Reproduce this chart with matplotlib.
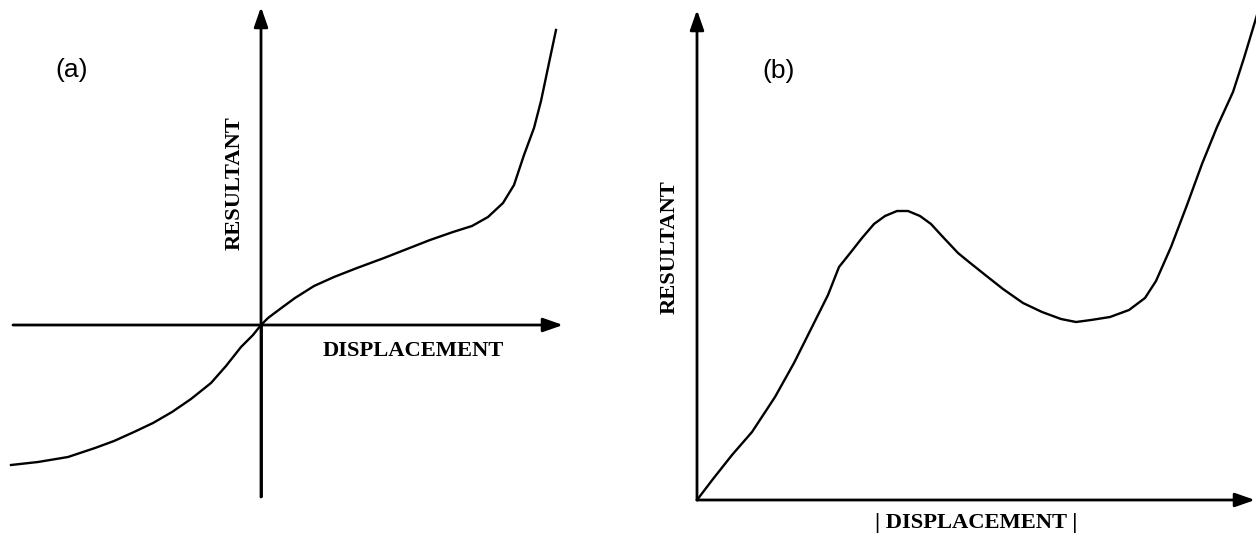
import numpy as np
import matplotlib.pyplot as plt

# (a) resultant vs signed displacement, S-shaped stiffening curve
disp_a = [-2.50, -2.23, -1.93, -1.66, -1.47, -1.27, -1.08, -0.89, -0.70,
          -0.50, -0.35, -0.20, -0.08, 0.00, 0.07, 0.19, 0.34, 0.53, 0.73,
          0.96, 1.23, 1.46, 1.69, 1.92, 2.11, 2.27, 2.42, 2.53, 2.63, 2.73,
          2.80, 2.88, 2.95]
res_a = [-1.40, -1.37, -1.32, -1.23, -1.16, -1.07, -0.98, -0.87, -0.74,
         -0.58, -0.41, -0.22, -0.10, 0.00, 0.07, 0.16, 0.27, 0.39, 0.48,
         0.57, 0.67, 0.76, 0.85, 0.93, 0.99, 1.08, 1.22, 1.40, 1.70, 1.97,
         2.24, 2.62, 2.95]

# (b) resultant vs |displacement|, hump then stiffening
disp_b = [0.00, 0.16, 0.35, 0.55, 0.78, 0.97, 1.16, 1.31, 1.42, 1.54, 1.65,
          1.77, 1.88, 2.00, 2.11, 2.23, 2.34, 2.45, 2.61, 2.72, 2.87, 3.06,
          3.26, 3.45, 3.64, 3.79, 3.94, 4.13, 4.32, 4.48, 4.59, 4.74, 4.90,
          5.05, 5.20, 5.36, 5.47, 5.60]
res_b = [0.00, 0.21, 0.45, 0.68, 1.03, 1.37, 1.75, 2.05, 2.33, 2.48, 2.62,
         2.76, 2.84, 2.89, 2.89, 2.84, 2.76, 2.64, 2.47, 2.38, 2.26, 2.11,
         1.97, 1.88, 1.81, 1.78, 1.80, 1.83, 1.90, 2.02, 2.19, 2.53, 2.95,
         3.36, 3.73, 4.08, 4.42, 4.85]

AXIS_LW = 2.0
CURVE_LW = 1.7
serif = dict(family='Liberation Serif', fontweight='bold', fontsize=16.2)


def arrow(ax, start, tip):
    ax.annotate('', xy=tip, xytext=start,
                arrowprops=dict(arrowstyle='-|>,head_length=1.0,head_width=0.35',
                                mutation_scale=12, lw=AXIS_LW, color='black',
                                shrinkA=0, shrinkB=0),
                annotation_clip=False)


fig = plt.figure(figsize=(12.56, 5.4), dpi=100)

ax_a = fig.add_axes([0, 0, 628 / 1256, 1])
ax_a.set_xlim(-2.61, 3.67)
ax_a.set_ylim(-2.15, 3.25)
ax_a.axis('off')
arrow(ax_a, (-2.48, 0), (3.02, 0))
ax_a.plot([0, 0], [-1.72, 0], color='black', lw=AXIS_LW, solid_capstyle='butt')
arrow(ax_a, (0, -1.72), (0, 3.18))
ax_a.plot(disp_a, res_a, color='black', lw=CURVE_LW, clip_on=False,
          solid_joinstyle='round')
ax_a.text(-1.89, 2.55, '(a)', family='Liberation Sans', fontsize=19,
          ha='center', va='center')
ax_a.text(-0.26, 1.42, 'RESULTANT', rotation=90, ha='center', va='center', **serif)
ax_a.text(1.52, -0.26, 'DISPLACEMENT', ha='center', va='center', **serif)

ax_b = fig.add_axes([628 / 1256, 0, 628 / 1256, 1])
ax_b.set_xlim(-0.69, 5.59)
ax_b.set_ylim(-0.40, 5.00)
ax_b.axis('off')
arrow(ax_b, (0, 0), (5.58, 0))
arrow(ax_b, (0, 0), (0, 4.90))
ax_b.plot(disp_b, res_b, color='black', lw=CURVE_LW, clip_on=False,
          solid_joinstyle='round')
ax_b.text(0.82, 4.29, '(b)', family='Liberation Sans', fontsize=19,
          ha='center', va='center')
ax_b.text(-0.27, 2.53, 'RESULTANT', rotation=90, ha='center', va='center', **serif)
ax_b.text(2.79, -0.23, '| DISPLACEMENT |', ha='center', va='center', **serif)

fig.savefig('out.png', dpi=100)
